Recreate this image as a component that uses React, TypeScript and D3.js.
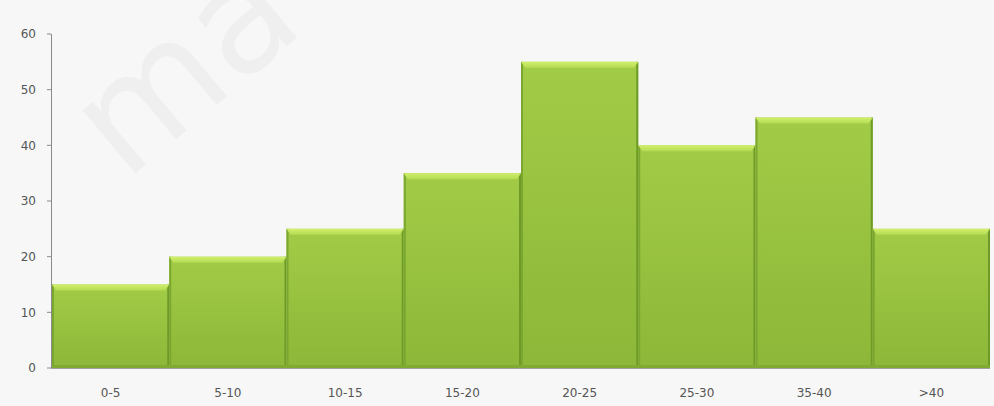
import React from "react";
import * as d3 from "d3";

const categories = ["0-5", "5-10", "10-15", "15-20", "20-25", "25-30", "35-40", ">40"];
const values = [15, 20, 25, 35, 55, 40, 45, 25];
const yTicks = [0, 10, 20, 30, 40, 50, 60];

const W = 994;
const H = 406;
const margin = { left: 51, right: 4, top: 34, bottom: 38 };

export default function App() {
  const x = d3
    .scaleBand<string>()
    .domain(categories)
    .range([margin.left + 1, W - margin.right])
    .paddingInner(0)
    .paddingOuter(0);
  const y = d3.scaleLinear().domain([0, 60]).range([H - margin.bottom, margin.top]);
  const y0 = y(0);

  return (
    <div style={{ position: "fixed", left: 0, top: 0, width: W, height: H }}>
      <svg width={W} height={H} style={{ display: "block" }}>
        <defs>
          <linearGradient id="body" x1="0" y1="0" x2="0" y2="1">
            <stop offset="0%" stopColor="#a2cc47" />
            <stop offset="100%" stopColor="#8cb738" />
          </linearGradient>
          <linearGradient id="top" x1="0" y1="0" x2="0" y2="1">
            <stop offset="0%" stopColor="#d2f06c" />
            <stop offset="100%" stopColor="#b4da52" />
          </linearGradient>
        </defs>
        <rect x={0} y={0} width={W} height={H} fill="#f7f7f7" />
        <text
          x={125}
          y={182}
          transform="rotate(-40 125 182)"
          fontFamily="DejaVu Sans"
          fontSize={150}
          fill="#efefef"
        >
          ma
        </text>
        {categories.map((c, i) => {
          const bx = x(c)!;
          const bw = x.bandwidth();
          const by = y(values[i]);
          const bh = y0 - by;
          return (
            <g key={c}>
              <rect x={bx} y={by} width={bw} height={bh} fill="url(#body)" />
              <rect x={bx} y={by} width={2} height={bh} fill="#7ba62f" />
              <rect x={bx + bw - 2} y={by} width={2} height={bh} fill="#6e9a28" />
              <path
                d={`M${bx},${by} L${bx + bw},${by} L${bx + bw - 4},${by + 6} L${bx + 4},${by + 6} Z`}
                fill="url(#top)"
              />
              <rect x={bx} y={y0 - 3} width={bw} height={3} fill="#80aa31" />
            </g>
          );
        })}
        <line x1={margin.left + 0.5} x2={margin.left + 0.5} y1={margin.top} y2={y0} stroke="#8a8a8a" strokeWidth={1} />
        <line x1={margin.left} x2={W - margin.right} y1={y0 + 0.5} y2={y0 + 0.5} stroke="#a0a0a0" strokeWidth={1} />
        {yTicks.map((t) => (
          <g key={t}>
            <line x1={margin.left - 4} x2={margin.left} y1={y(t)} y2={y(t)} stroke="#8a8a8a" />
            <text
              x={margin.left - 15}
              y={y(t)}
              dy="0.35em"
              textAnchor="end"
              fontFamily="DejaVu Sans"
              fontSize={12}
              fill="#555"
            >
              {t}
            </text>
          </g>
        ))}
        {categories.map((c) => (
          <text
            key={c}
            x={x(c)! + x.bandwidth() / 2}
            y={397}
            textAnchor="middle"
            fontFamily="DejaVu Sans"
            fontSize={12}
            fill="#555"
          >
            {c}
          </text>
        ))}
      </svg>
    </div>
  );
}
